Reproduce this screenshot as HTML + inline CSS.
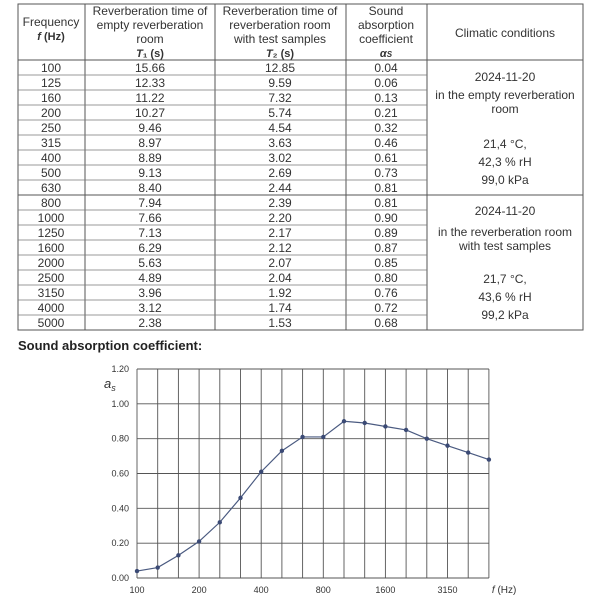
<!DOCTYPE html>
<html><head><style>body{margin:0;background:#fff}svg{display:block}text{font-family:"Liberation Sans",sans-serif;fill:#333}</style></head><body>
<svg width="600" height="600" viewBox="0 0 600 600">
<g stroke="#555" stroke-width="1" fill="none">
<rect x="18" y="4" width="565" height="326"/>
<line x1="85" y1="4" x2="85" y2="330"/><line x1="215" y1="4" x2="215" y2="330"/><line x1="346" y1="4" x2="346" y2="330"/><line x1="427" y1="4" x2="427" y2="330"/>
<line x1="18" y1="60" x2="583" y2="60"/>
<line x1="18" y1="195" x2="583" y2="195"/>
</g>
<g font-size="12" text-anchor="middle">
<text x="51" y="26">Frequency</text><text x="51" y="40" font-weight="bold" font-size="11"><tspan font-style="italic">f</tspan> (Hz)</text>
<text x="150" y="15">Reverberation time of</text><text x="150" y="29">empty reverberation</text><text x="150" y="43">room</text><text x="150" y="57" font-weight="bold" font-size="11"><tspan font-style="italic">T</tspan>₁ (s)</text>
<text x="280" y="15">Reverberation time of</text><text x="280" y="29">reverberation room</text><text x="280" y="43">with test samples</text><text x="280" y="57" font-weight="bold" font-size="11"><tspan font-style="italic">T</tspan>₂ (s)</text>
<text x="386" y="15">Sound</text><text x="386" y="29">absorption</text><text x="386" y="43">coefficient</text><text x="386" y="57" font-weight="bold" font-style="italic" font-size="11">α<tspan font-size="8">S</tspan></text>
<text x="505" y="37">Climatic conditions</text>
<text x="505" y="81">2024-11-20</text><text x="505" y="99">in the empty reverberation</text><text x="505" y="113">room</text>
<text x="505" y="148">21,4 °C,</text><text x="505" y="166">42,3 % rH</text><text x="505" y="184">99,0 kPa</text>
<text x="505" y="215">2024-11-20</text><text x="505" y="236">in the reverberation room</text><text x="505" y="250">with test samples</text>
<text x="505" y="283">21,7 °C,</text><text x="505" y="301">43,6 % rH</text><text x="505" y="319">99,2 kPa</text>
</g>
<g id="rows" font-size="12" text-anchor="middle"></g>
<text x="18" y="350" font-size="13" font-weight="bold" style="fill:#222">Sound absorption coefficient:</text>
<g id="chart"></g>
</svg>
<script>
var d=[["100","15.66","12.85","0.04"],["125","12.33","9.59","0.06"],["160","11.22","7.32","0.13"],["200","10.27","5.74","0.21"],["250","9.46","4.54","0.32"],["315","8.97","3.63","0.46"],["400","8.89","3.02","0.61"],["500","9.13","2.69","0.73"],["630","8.40","2.44","0.81"],["800","7.94","2.39","0.81"],["1000","7.66","2.20","0.90"],["1250","7.13","2.17","0.89"],["1600","6.29","2.12","0.87"],["2000","5.63","2.07","0.85"],["2500","4.89","2.04","0.80"],["3150","3.96","1.92","0.76"],["4000","3.12","1.74","0.72"],["5000","2.38","1.53","0.68"]];
var s="";
var xs=[51,150,280,386];
for(var i=0;i<18;i++){var y=60+i*15;
 if(i>0&&i!=9)s+='<line x1="18" y1="'+y+'" x2="427" y2="'+y+'" stroke="#777" stroke-width="0.8"/>';
 for(var j=0;j<4;j++)s+='<text x="'+xs[j]+'" y="'+(y+12)+'">'+d[i][j]+'</text>';}
document.getElementById("rows").innerHTML=s;
var c="",x0=137,dx=20.7,y0=578,yt=369;
function Y(v){return y0-(v/1.2)*(y0-yt);}
for(var k=0;k<=6;k++){var y=Y(k*0.2);c+='<line x1="'+x0+'" y1="'+y+'" x2="'+(x0+17*dx)+'" y2="'+y+'" stroke="#555" stroke-width="0.9"/>';
 c+='<text x="'+(x0-8)+'" y="'+(y+3)+'" font-size="9" text-anchor="end">'+(k*0.2).toFixed(2)+'</text>';}
for(var k=0;k<=17;k++){var x=x0+k*dx;c+='<line x1="'+x+'" y1="'+yt+'" x2="'+x+'" y2="'+y0+'" stroke="#555" stroke-width="0.9"/>';}
var lb={0:"100",3:"200",6:"400",9:"800",12:"1600",15:"3150"};
for(var k in lb)c+='<text x="'+(x0+k*dx)+'" y="593" font-size="9" text-anchor="middle">'+lb[k]+'</text>';
c+='<text x="'+(x0+17*dx+3)+'" y="593" font-size="10"><tspan font-style="italic">f</tspan> (Hz)</text>';
c+='<text x="104" y="388" font-size="13" font-style="italic">a<tspan font-size="9" dy="3">s</tspan></text>';
var p="";for(var i=0;i<18;i++){p+=(x0+i*dx)+","+Y(+d[i][3])+" ";}
c+='<polyline points="'+p+'" fill="none" stroke="#4a5a80" stroke-width="1.2"/>';
for(var i=0;i<18;i++)c+='<circle cx="'+(x0+i*dx)+'" cy="'+Y(+d[i][3])+'" r="2.2" fill="#3b4a75"/>';
document.getElementById("chart").innerHTML=c;
</script>
</body></html>
